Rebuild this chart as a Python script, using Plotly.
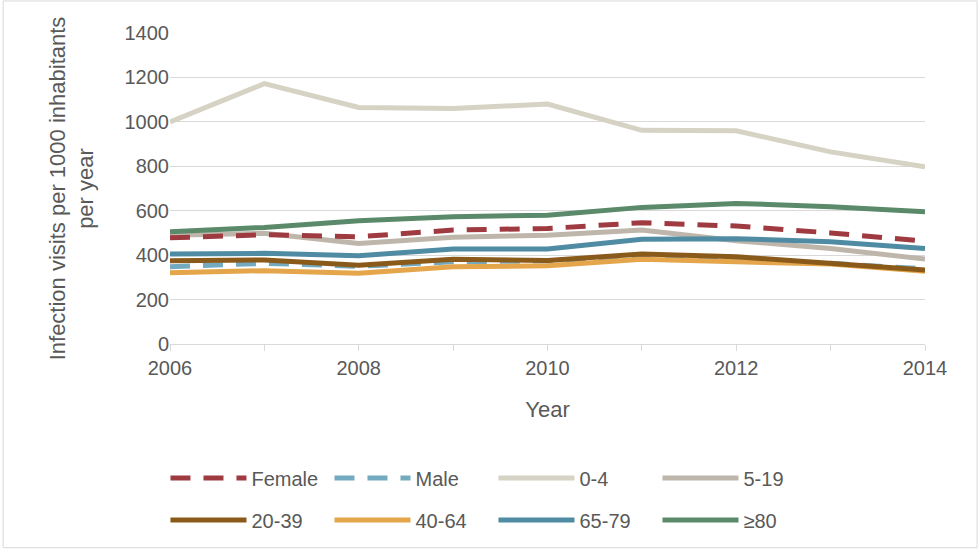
import plotly.graph_objects as go

years = [2006, 2007, 2008, 2009, 2010, 2011, 2012, 2013, 2014]
year_labels = ["2006", "", "2008", "", "2010", "", "2012", "", "2014"]

female = [478, 492, 483, 513, 520, 546, 531, 500, 463]
male = [348, 363, 350, 370, 374, 395, 378, 363, 338]
age_0_4 = [1000, 1172, 1065, 1060, 1080, 962, 960, 865, 798]
age_5_19 = [490, 498, 453, 480, 490, 513, 465, 430, 382]
age_20_39 = [375, 378, 354, 381, 376, 405, 393, 363, 333]
age_40_64 = [321, 330, 318, 348, 352, 381, 370, 360, 328]
age_65_79 = [405, 408, 397, 428, 428, 471, 474, 460, 430]
age_80 = [505, 525, 555, 573, 580, 615, 633, 618, 595]

# name, values, colour, dash, legend row
series = [
    ("Female", female, "#9E3A40", "20px,13px", "legend"),
    ("Male", male, "#74AABF", "20px,13px", "legend"),
    ("0-4", age_0_4, "#D6D3C4", "solid", "legend"),
    ("5-19", age_5_19, "#BEB6AB", "solid", "legend"),
    ("20-39", age_20_39, "#8A5A1B", "solid", "legend2"),
    ("40-64", age_40_64, "#E4A54B", "solid", "legend2"),
    ("65-79", age_65_79, "#4F8BA2", "solid", "legend2"),
    ("≥80", age_80, "#5A8A6A", "solid", "legend2"),
]

# draw order: back to front roughly as in the original
draw_order = ["0-4", "5-19", "Male", "40-64", "20-39", "65-79", "Female", "≥80"]
names = [s[0] for s in series]

fig = go.Figure()

for name in draw_order:
    _, vals, color, dash, leg = series[names.index(name)]
    fig.add_trace(go.Scatter(
        x=years,
        y=vals,
        mode='lines',
        name=name,
        line=dict(color=color, width=5, dash=dash),
        legend=leg,
        legendrank=names.index(name) + 1,
    ))


def _legend_row(y):
    return dict(
        orientation='h',
        x=-0.006,
        xanchor='left',
        y=y,
        yanchor='middle',
        entrywidth=73,
        entrywidthmode='pixels',
        itemwidth=76,
        font=dict(size=20, color="#595959"),
        traceorder='normal',
        bgcolor='rgba(0,0,0,0)',
    )


fig.update_layout(
    width=980,
    height=550,
    paper_bgcolor='white',
    plot_bgcolor='white',
    margin=dict(l=170, r=55, t=33, b=206, autoexpand=False),
    font=dict(family="Liberation Sans, Arial, sans-serif", color="#595959", size=20),
    showlegend=True,
    legend=_legend_row(-0.431),
    legend2=_legend_row(-0.566),
    xaxis=dict(
        range=[2006, 2014],
        tickvals=years,
        ticktext=year_labels,
        ticks='outside',
        ticklen=6,
        tickcolor='#D9D9D9',
        showline=True,
        linecolor='#D9D9D9',
        linewidth=1,
        showgrid=False,
        zeroline=False,
        tickfont=dict(size=20, color="#595959"),
        title=dict(text="Year", font=dict(size=22, color="#595959"), standoff=23),
    ),
    yaxis=dict(
        range=[0, 1400],
        dtick=200,
        showgrid=True,
        gridcolor='#D9D9D9',
        gridwidth=1,
        zeroline=False,
        showline=False,
        ticks='',
        tickfont=dict(size=20, color="#595959"),
        title=dict(text="Infection visits per 1000 inhabitants<br>per year",
                   font=dict(size=22, color="#595959"), standoff=24),
    ),
    shapes=[dict(
        type='rect', xref='paper', yref='paper',
        x0=-0.221, x1=1.069, y0=-0.655, y1=1.103,
        line=dict(color='#D9D9D9', width=1),
        fillcolor='rgba(0,0,0,0)',
        layer='below',
    )],
)

# the page body has a default margin; remove it so the figure sits at 0,0
fig.write_html(
    "out.html",
    config={"displayModeBar": False},
    post_script="document.body.style.margin='0';",
)
